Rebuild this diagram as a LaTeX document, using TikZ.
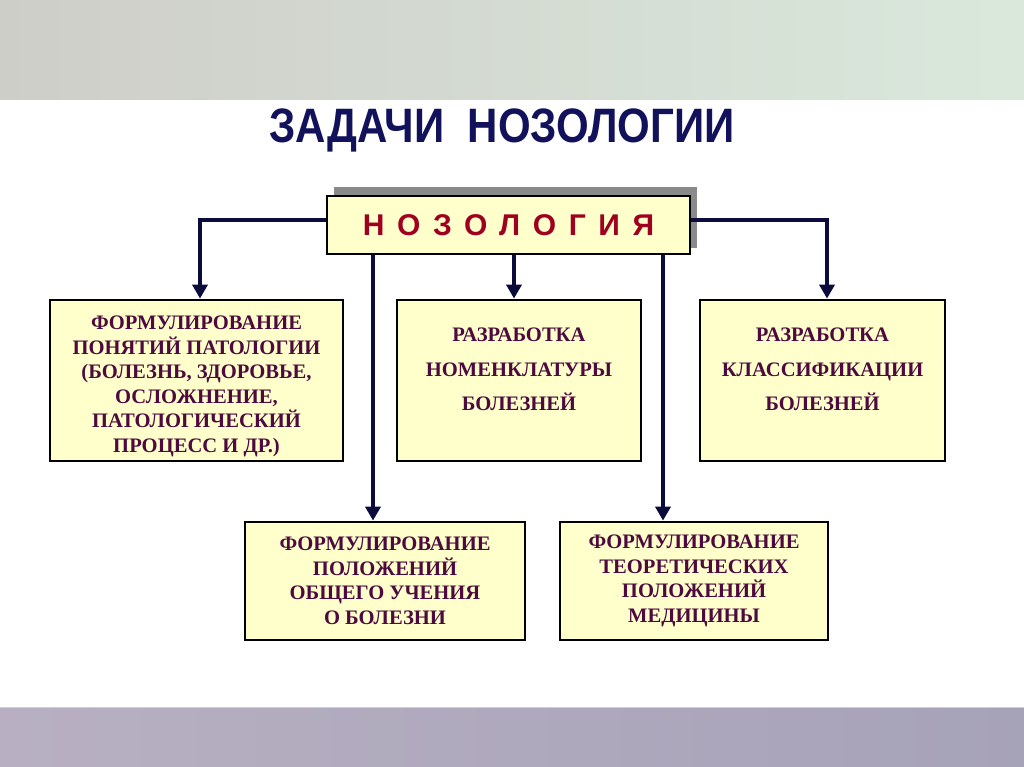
\documentclass[tikz,border=0pt]{standalone}
\usepackage{fontspec}
\usepackage{graphicx}
\setmainfont{Liberation Serif}
\setsansfont{Liberation Sans}
\newfontfamily\spacedsans[LetterSpace=42]{Liberation Sans}
\usetikzlibrary{arrows.meta}
\definecolor{boxfill}{HTML}{FFFFCC}
\definecolor{boxtext}{HTML}{4E0A3E}
\definecolor{navy}{HTML}{0C0C3C}
\definecolor{titlecol}{HTML}{12125C}
\definecolor{nozred}{HTML}{A00020}
\definecolor{shadowgray}{HTML}{8A8A8A}
\tikzset{
  taskbox/.style={draw=black, line width=2.8pt, fill=boxfill, text=boxtext,
    font=\fontsize{20.6}{24.5}\selectfont\bfseries, align=center, inner sep=0pt},
  widebox/.style={taskbox, font=\fontsize{20.6}{34.5}\selectfont\bfseries},
  conn/.style={draw=navy, line width=3.5pt, -{Triangle[width=15pt,length=14pt]}}
}
\begin{document}
\begin{tikzpicture}[x=1pt,y=-1pt]
\useasboundingbox (0,0) rectangle (1024,767);
\fill[white] (0,0) rectangle (1024,767);
% top band
\shade[left color={rgb,255:red,206;green,206;blue,200}, middle color={rgb,255:red,246;green,247;blue,238}, right color={rgb,255:red,218;green,232;blue,220}] (0,0) rectangle (1024,100);
% bottom band
\shade[left color={rgb,255:red,184;green,176;blue,194}, middle color={rgb,255:red,192;green,184;blue,198}, right color={rgb,255:red,166;green,162;blue,184}] (0,707) rectangle (1024,767);
\draw[line width=1pt, color={rgb,255:red,210;green,206;blue,214}] (0,707.5) -- (1024,707.5);
% title
\node[font=\sffamily\bfseries\fontsize{42}{44}\selectfont, text=titlecol] (title) at (502,130.5) {\scalebox{1}[1.15]{ЗАДАЧИ\ \ НОЗОЛОГИИ}};
% shadow + main box
\fill[shadowgray] (334,187) rectangle (697,248);
\node[draw=black, line width=2.8pt, fill=boxfill, minimum width=363pt, minimum height=58pt, inner sep=0pt,
  text=nozred, font=\spacedsans\bfseries\fontsize{30}{32}\selectfont] (noz) at (508.5,225) {НОЗОЛОГИЯ};
% boxes
\node[taskbox, minimum width=293pt, minimum height=161pt] (b1) at (196.5,380.5)
  {\rule{0pt}{25pt}ФОРМУЛИРОВАНИЕ\\ПОНЯТИЙ ПАТОЛОГИИ\\(БОЛЕЗНЬ, ЗДОРОВЬЕ,\\ОСЛОЖНЕНИЕ,\\ПАТОЛОГИЧЕСКИЙ\\ПРОЦЕСС И ДР.)};
\node[widebox, minimum width=244pt, minimum height=161pt] (b2) at (519,380.5)
  {РАЗРАБОТКА\\НОМЕНКЛАТУРЫ\\БОЛЕЗНЕЙ\rule[-22pt]{0pt}{22pt}};
\node[widebox, minimum width=245pt, minimum height=161pt] (b3) at (822.5,380.5)
  {РАЗРАБОТКА\\КЛАССИФИКАЦИИ\\БОЛЕЗНЕЙ\rule[-22pt]{0pt}{22pt}};
\node[taskbox, minimum width=280pt, minimum height=118pt] (b4) at (385,581)
  {ФОРМУЛИРОВАНИЕ\\ПОЛОЖЕНИЙ\\ОБЩЕГО УЧЕНИЯ\\О БОЛЕЗНИ};
\node[taskbox, minimum width=268pt, minimum height=118pt] (b5) at (694,581)
  {ФОРМУЛИРОВАНИЕ\\ТЕОРЕТИЧЕСКИХ\\ПОЛОЖЕНИЙ\\МЕДИЦИНЫ};
% connector start points
\coordinate (wl) at ([yshift=5pt]noz.west);
\coordinate (wr) at ([yshift=5pt]noz.east);
\coordinate (s1) at ([xshift=-135.5pt]noz.south);
\coordinate (s2) at ([xshift=5.5pt]noz.south);
\coordinate (s3) at ([xshift=154.5pt]noz.south);
\coordinate (e1) at ([xshift=3.5pt]b1.north);
\coordinate (e3) at ([xshift=4.5pt]b3.north);
% connectors
\draw[conn] (wl) -| (e1);
\draw[conn] (wr) -| (e3);
\draw[conn] (s2) -- (s2 |- b2.north);
\draw[conn] (s1) -- (s1 |- b4.north);
\draw[conn] (s3) -- (s3 |- b5.north);
\end{tikzpicture}
\end{document}
